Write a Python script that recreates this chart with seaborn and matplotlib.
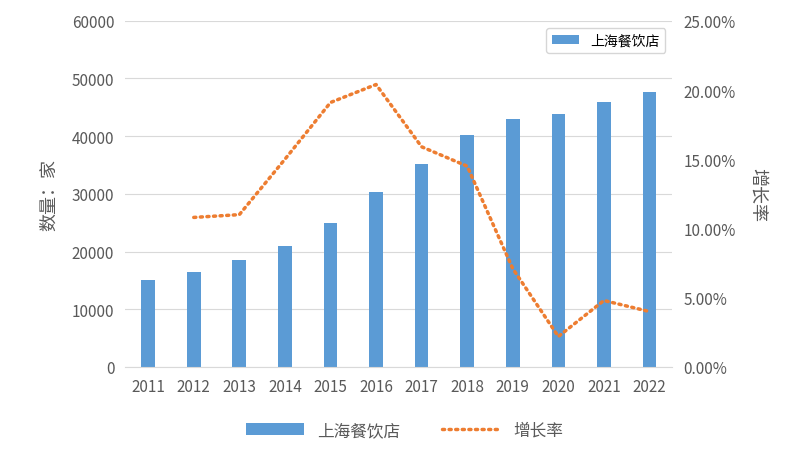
import numpy as np
import pandas as pd
import matplotlib
matplotlib.use("Agg")
import matplotlib.pyplot as plt
import seaborn as sns
from matplotlib.ticker import FuncFormatter

plt.rcParams["font.family"] = ["Noto Sans CJK SC", "DejaVu Sans"]

years = ["2011", "2012", "2013", "2014", "2015", "2016", "2017", "2018", "2019", "2020", "2021", "2022"]
shops = [15000, 16500, 18500, 21000, 25000, 30300, 35100, 40200, 43000, 43800, 45900, 47600]
growth = [np.nan, 0.108, 0.110, 0.150, 0.191, 0.204, 0.159, 0.145, 0.071, 0.022, 0.048, 0.040]

df = pd.DataFrame({"year": years, "shops": shops, "growth": growth})
df["x"] = np.arange(len(years))

grey = "#595959"
fig = plt.figure(figsize=(8.09, 4.64), dpi=100)
ax = fig.add_axes([0.155, 0.207, 0.676, 0.746])

sns.barplot(data=df, x="x", y="shops", color="#5b9bd5", width=0.3, saturation=1,
            ax=ax, label="上海餐饮店")
ax.set_ylim(0, 60000)
ax.set_yticks(range(0, 60001, 10000))
ax.set_xticks(df["x"])
ax.set_xticklabels(years)
ax.set_xlim(-0.5, len(years) - 0.5)
ax.grid(axis="y", color="#d9d9d9", lw=0.8)
ax.set_axisbelow(True)
for s in ["top", "right", "left"]:
    ax.spines[s].set_visible(False)
ax.spines["bottom"].set_color("#d9d9d9")
ax.tick_params(length=0, labelsize=11, colors=grey, pad=8)
ax.set_xlabel("")
ax.set_ylabel("数量：家", fontsize=13, color=grey, labelpad=10)

ax2 = ax.twinx()
ax2.plot(df["x"], df["growth"], color="#ed7d31", lw=2.5, ls=(0, (0.6, 1.3)),
         dash_capstyle="round", label="增长率")
ax2.set_ylim(0, 0.25)
ax2.set_yticks(np.arange(0, 0.2501, 0.05))
ax2.yaxis.set_major_formatter(FuncFormatter(lambda v, _p: f"{v*100:.2f}%"))
for s in ax2.spines.values():
    s.set_visible(False)
ax2.tick_params(length=0, labelsize=11, colors=grey, pad=8)
ax2.set_ylabel("增长率", fontsize=13, color=grey, rotation=270, labelpad=22)

h1, l1 = ax.get_legend_handles_labels()
h2, l2 = ax2.get_legend_handles_labels()
fig.legend(h1 + h2, l1 + l2, loc="lower center", bbox_to_anchor=(0.5, 0.02),
           ncol=2, frameon=False, fontsize=12, labelcolor=grey,
           handlelength=3.5, columnspacing=2.5)

fig.savefig("out.png", dpi=100)
